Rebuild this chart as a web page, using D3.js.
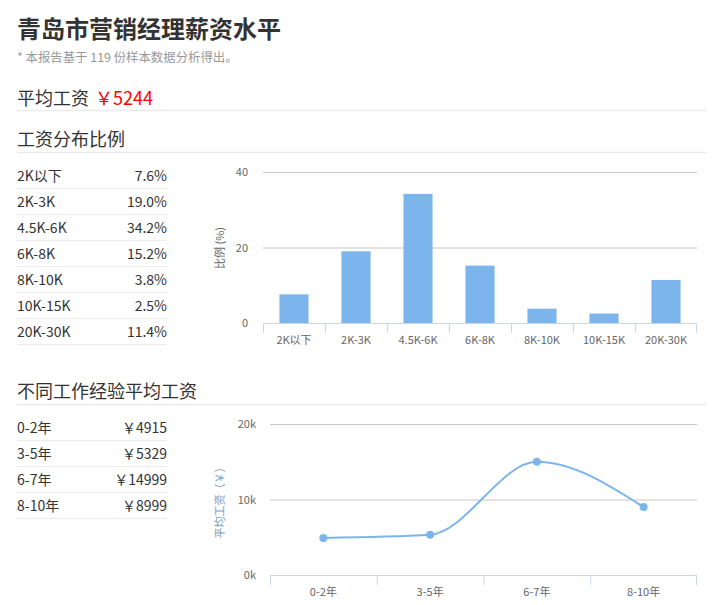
<!DOCTYPE html>
<html><head><meta charset="utf-8">
<script src="https://cdn.jsdelivr.net/npm/d3@7"></script>
<style>
body{margin:0;background:#fff;}
svg{display:block;font-family:"Noto Sans CJK SC","Noto Sans",sans-serif;}
</style></head>
<body>
<svg id="c" width="716" height="605"></svg>
<script>
const title = "青岛市营销经理薪资水平";
const subtitle = "* 本报告基于 119 份样本数据分析得出。";
const avgSalary = 5244;
const distCategories = ["2K以下","2K-3K","4.5K-6K","6K-8K","8K-10K","10K-15K","20K-30K"];
const distValues = [7.6, 19.0, 34.2, 15.2, 3.8, 2.5, 11.4];
const distTicks = [0, 20, 40];
const expCategories = ["0-2年","3-5年","6-7年","8-10年"];
const expValues = [4915, 5329, 14999, 8999];
const expTicks = [0, 10000, 20000];

const svg = d3.select("#c");
const txt = "#333";

svg.append("text").attr("x",17).attr("y",38).attr("font-size",24).attr("font-weight","bold").attr("fill",txt).text(title);
svg.append("text").attr("x",17).attr("y",62).attr("font-size",12.4).attr("fill","#999").text(subtitle);

function section(label, y, lineY){
  const t = svg.append("text").attr("x",17).attr("y",y).attr("font-size",18).attr("fill",txt);
  t.append("tspan").text(label);
  svg.append("line").attr("x1",17).attr("x2",707).attr("y1",lineY).attr("y2",lineY).attr("stroke","#ebebeb").attr("stroke-width",1.5);
  return t;
}
const avgT = section("平均工资", 105, 110.5);
avgT.append("tspan").attr("dx",6).attr("fill","#f00").text("￥" + avgSalary);
section("工资分布比例", 146, 152.5);
section("不同工作经验平均工资", 398, 404.5);

function table(cats, vals, fmt, y0){
  cats.forEach((c,i)=>{
    const y = y0 + i*26;
    svg.append("text").attr("x",17).attr("y",y+5).attr("font-size",14).attr("fill",txt).text(c);
    svg.append("text").attr("x",167).attr("y",y+5).attr("font-size",14).attr("fill",txt).attr("text-anchor","end").text(fmt(vals[i]));
    svg.append("line").attr("x1",17).attr("x2",167).attr("y1",y+12.5).attr("y2",y+12.5).attr("stroke","#ececec").attr("stroke-width",1);
  });
}
table(distCategories, distValues, v=>v.toFixed(1)+"%", 176);
table(expCategories, expValues, v=>"￥"+v, 428);

const gridC = "#c6c6c6", axisC = "#ccd6eb", tickTxt = "#666";

// Bar chart
const xb = d3.scaleBand().domain(distCategories).range([263,697]);
const yb = d3.scaleLinear().domain([0,40]).range([323,172]);
const gb = svg.append("g");
distTicks.forEach(t=>{
  if(t>0) gb.append("line").attr("x1",263).attr("x2",697).attr("y1",yb(t)+0.5).attr("y2",yb(t)+0.5).attr("stroke",gridC);
  gb.append("text").attr("x",248).attr("y",yb(t)+4).attr("text-anchor","end").attr("font-size",11).attr("fill",tickTxt).text(t);
});
const bw = xb.bandwidth()*0.47;
gb.selectAll("rect").data(distValues).join("rect")
  .attr("x",(d,i)=>xb(distCategories[i])+xb.bandwidth()/2-bw/2)
  .attr("width",bw).attr("y",d=>yb(d)).attr("height",d=>yb(0)-yb(d)).attr("fill","#7cb5ec");
gb.append("line").attr("x1",263).attr("x2",697).attr("y1",323.5).attr("y2",323.5).attr("stroke",axisC);
distCategories.concat([null]).forEach((c,i)=>{
  const x = (c===null? 697 : xb(c)) + (c===null?-0.5:0.5);
  gb.append("line").attr("x1",x).attr("x2",x).attr("y1",323).attr("y2",333).attr("stroke",axisC);
});
distCategories.forEach(c=>{
  gb.append("text").attr("x",xb(c)+xb.bandwidth()/2).attr("y",344).attr("text-anchor","middle").attr("font-size",11).attr("fill",tickTxt).text(c);
});
gb.append("text").attr("transform","translate(224,248) rotate(-90)").attr("text-anchor","middle").attr("font-size",11).attr("fill",tickTxt).text("比例 (%)");

// Line chart
const xl = d3.scaleBand().domain(expCategories).range([270,697]);
const yl = d3.scaleLinear().domain([0,20000]).range([575,424]);
const gl = svg.append("g");
expTicks.forEach(t=>{
  if(t>0) gl.append("line").attr("x1",270).attr("x2",697).attr("y1",yl(t)+0.5).attr("y2",yl(t)+0.5).attr("stroke",gridC);
  gl.append("text").attr("x",256).attr("y",yl(t)+4).attr("text-anchor","end").attr("font-size",11).attr("fill",tickTxt).text((t/1000)+"k");
});
gl.append("line").attr("x1",270).attr("x2",697).attr("y1",575.5).attr("y2",575.5).attr("stroke",axisC);
expCategories.concat([null]).forEach(c=>{
  const x = (c===null? 697 : xl(c)) + (c===null?-0.5:0.5);
  gl.append("line").attr("x1",x).attr("x2",x).attr("y1",575).attr("y2",585).attr("stroke",axisC);
});
expCategories.forEach(c=>{
  gl.append("text").attr("x",xl(c)+xl.bandwidth()/2).attr("y",596).attr("text-anchor","middle").attr("font-size",11).attr("fill",tickTxt).text(c);
});
const pts = expValues.map((v,i)=>[xl(expCategories[i])+xl.bandwidth()/2, yl(v)]);
gl.append("path").attr("d",d3.line().curve(d3.curveMonotoneX)(pts)).attr("fill","none").attr("stroke","#7cb5ec").attr("stroke-width",2);
gl.selectAll("circle").data(pts).join("circle").attr("cx",d=>d[0]).attr("cy",d=>d[1]).attr("r",4).attr("fill","#7cb5ec");
gl.append("text").attr("transform","translate(224,500) rotate(-90)").attr("text-anchor","middle").attr("font-size",11).attr("fill","#7c9cc4").text("平均工资（￥）");
</script>
</body></html>
